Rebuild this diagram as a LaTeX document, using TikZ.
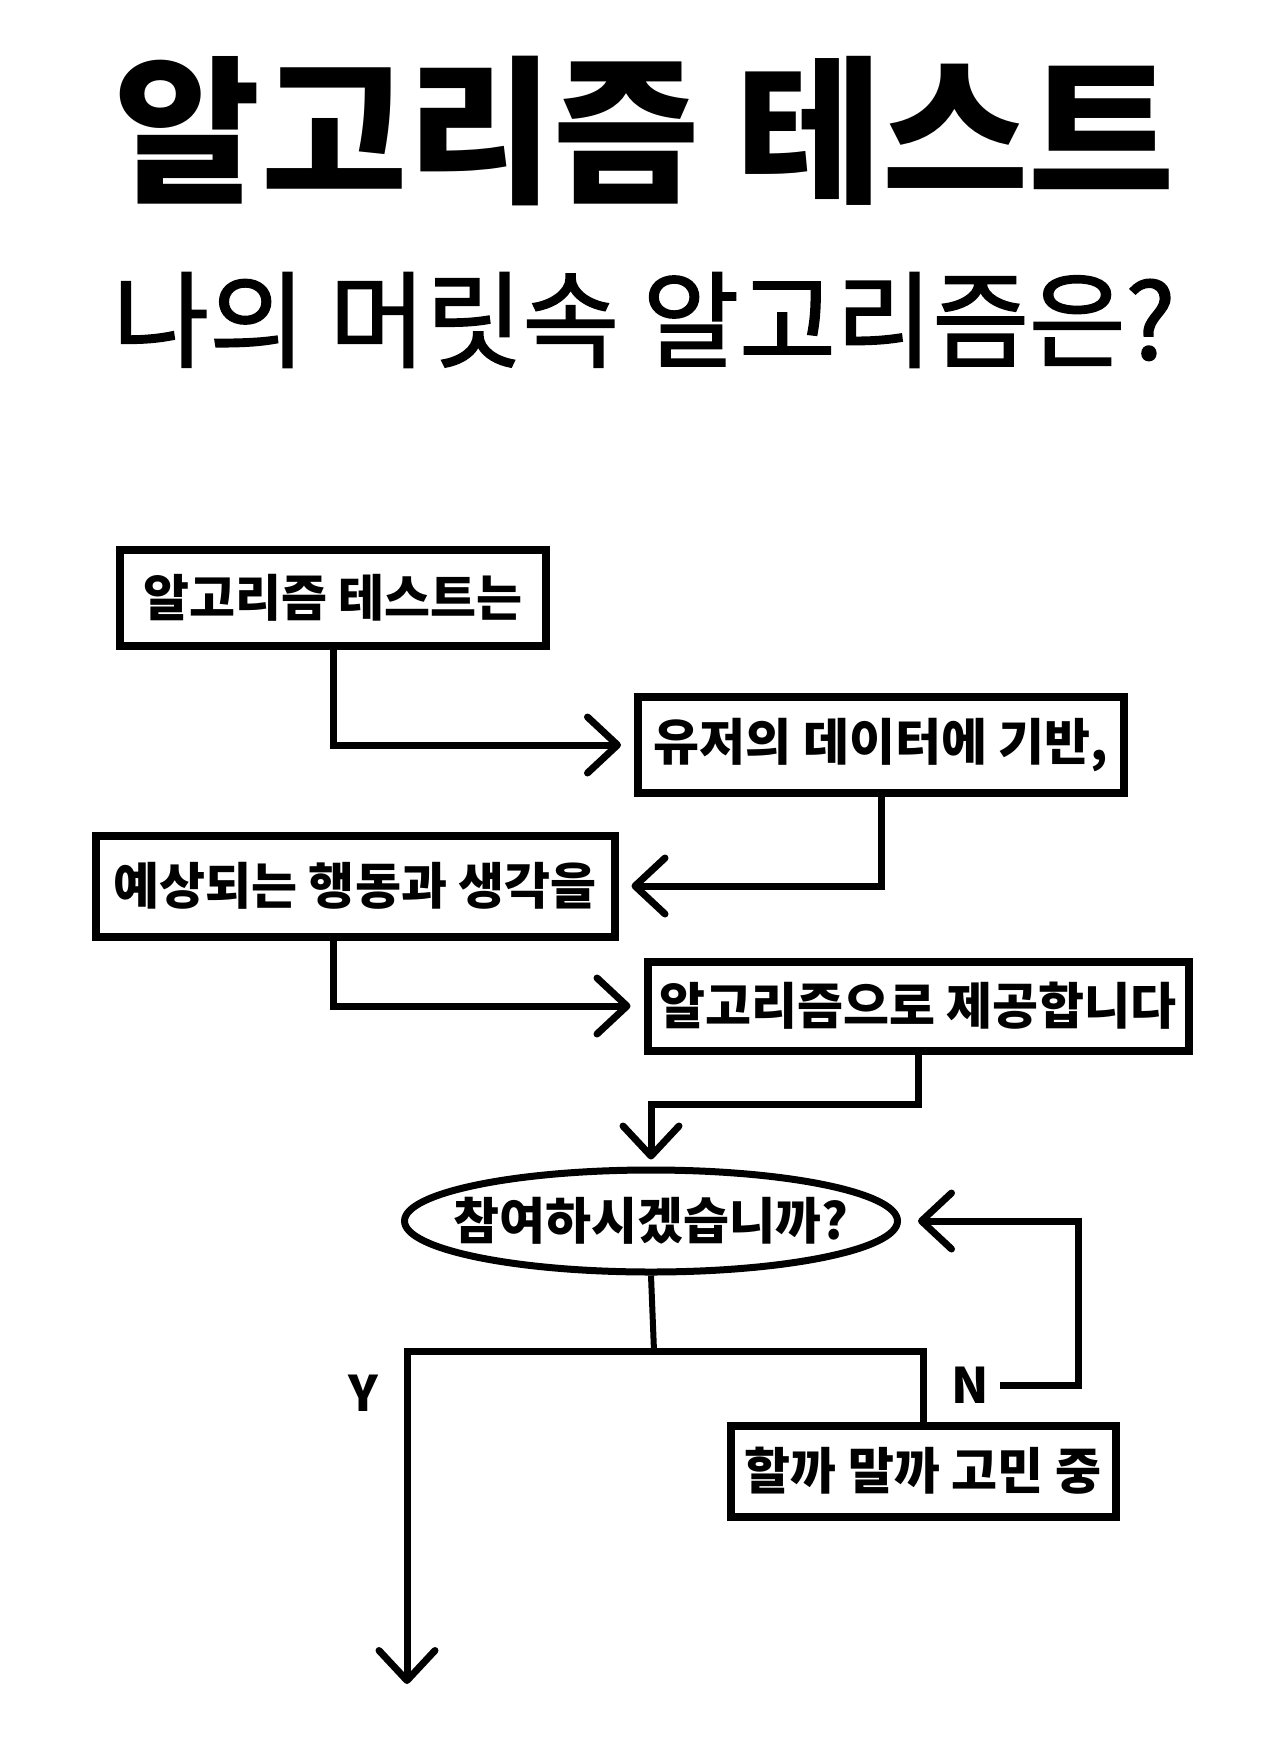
\documentclass[tikz,border=0pt]{standalone}
\usepackage{fontspec}
\newfontfamily\krfont{Noto Sans CJK KR}
\newfontfamily\krmid{Noto Sans CJK KR}[FakeBold=1.5]
\usetikzlibrary{shapes.geometric,arrows.meta}

\begin{document}
\begin{tikzpicture}[x=1pt,y=-1pt,-,>={Straight Barb[length=30pt,width=56pt,line width=7pt,round]},line width=7pt,
  main node/.style={draw,line width=8pt,inner sep=0pt,font=\krfont\bfseries\fontsize{50}{54}\selectfont},
  yn node/.style={inner sep=8pt,font=\krfont\bfseries\fontsize{49}{52}\selectfont}]

            \useasboundingbox (0,0) rectangle (1284,1739);

            \node[font=\krfont\bfseries\fontsize{159}{164}\selectfont] (title) at (645,131) {알고리즘 테스트};
            \node[font=\krmid\fontsize{105}{110}\selectfont] (sub) at (644,320) {나의 머릿속 알고리즘은?};

            \node[main node, minimum width=426, minimum height=96] (1) at (333,598) {알고리즘 테스트는};
            \node[main node, minimum width=486, minimum height=96] (2) at (881,745) {유저의 데이터에 기반,};
            \node[main node, minimum width=519, minimum height=101] (3) at (355,886) {예상되는 행동과 생각을};
            \node[main node, minimum width=541, minimum height=89] (4) at (918,1006) {알고리즘으로 제공합니다};
            \node[main node, ellipse, inner xsep=-40pt, line width=7pt, minimum width=493, minimum height=102] (5) at (651,1221) {참여하시겠습니까?};
            \node[main node, minimum width=385, minimum height=91] (6) at (923,1471) {할까 말까 고민 중};

            \node[yn node] (Y) at (363,1393) {Y};
            \node[yn node] (N) at (970,1385) {N};

            \coordinate (split) at (654,1351);
            \coordinate (end) at (407,1684);

            \draw[->, shorten >=13pt] (1) |- (2);
            \draw[->, shorten >=13pt] (2) |- (3);
            \draw[->, shorten >=13pt] (3.south -| 1.south) |- (4);
            \draw[->, shorten >=7pt] (4.south) -- ++(0,50) -| (5);
            \draw[-, line width=6pt] (5.south) -- (split);
            \draw[->] (split) -| (end);
            \draw[-] (split) -| (6);
            \draw[->, shorten >=17pt] (N.east) -- ++(78,0) |- (5);

            ;
        \end{tikzpicture}
\end{document}
